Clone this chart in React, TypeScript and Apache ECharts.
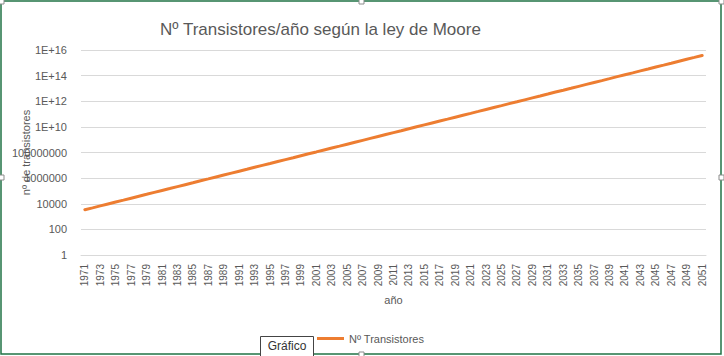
import React, { useEffect, useRef } from "react";
import * as echarts from "echarts";

const years: string[] = [];
for (let y = 1971; y <= 2051; y++) years.push(String(y));

const transistores: number[] = [
  3.4e3, 4.8e3, 6.8e3, 9.6e3, 1.36e4, 1.92e4, 2.72e4, 3.85e4, 5.44e4, 7.7e4,
  1.09e5, 1.54e5, 2.18e5, 3.08e5, 4.35e5, 6.2e5, 8.7e5, 1.23e6, 1.74e6, 2.46e6,
  3.48e6, 4.9e6, 7.0e6, 9.9e6, 1.39e7, 1.97e7, 2.79e7, 3.9e7, 5.6e7, 7.9e7,
  1.11e8, 1.58e8, 2.23e8, 3.15e8, 4.46e8, 6.3e8, 8.9e8, 1.26e9, 1.78e9, 2.52e9,
  3.57e9, 5.0e9, 7.1e9, 1.01e10, 1.43e10, 2.02e10, 2.85e10, 4.0e10, 5.7e10, 8.1e10,
  1.14e11, 1.61e11, 2.28e11, 3.23e11, 4.56e11, 6.5e11, 9.1e11, 1.29e12, 1.83e12, 2.58e12,
  3.65e12, 5.2e12, 7.3e12, 1.03e13, 1.46e13, 2.07e13, 2.92e13, 4.1e13, 5.8e13, 8.3e13,
  1.17e14, 1.65e14, 2.34e14, 3.3e14, 4.7e14, 6.6e14, 9.3e14, 1.32e15, 1.87e15, 2.64e15,
  3.74e15,
];

const title = "Nº Transistores/año según la ley de Moore";
const seriesName = "Nº Transistores";
const yName = "nº de transistores";
const xName = "año";
const tabLabel = "Gráfico";

const FONT = "Liberation Sans";
const GRAY = "#595959";

export default function App() {
  const ref = useRef<HTMLDivElement>(null);
  useEffect(() => {
    if (!ref.current) return;
    const chart = echarts.init(ref.current, undefined, { renderer: "svg" });
    const handle = (x: number, y: number) => ({
      type: "rect",
      shape: { x, y, width: 5, height: 5 },
      style: { fill: "#fff", stroke: "#8c8c8c", lineWidth: 1 },
      z: 101,
    });
    chart.setOption({
      animation: false,
      backgroundColor: "#fff",
      title: {
        text: title,
        left: 155,
        top: 16,
        textStyle: { fontFamily: FONT, fontSize: 17, fontWeight: "normal", color: GRAY },
      },
      legend: {
        data: [seriesName],
        left: 312,
        top: 328,
        icon: "rect",
        itemWidth: 27,
        itemHeight: 3,
        itemGap: 5,
        itemStyle: { color: "#ED7D31" },
        textStyle: { fontFamily: FONT, fontSize: 11, color: GRAY },
      },
      grid: { left: 81, right: 18, top: 50, bottom: 101 },
      xAxis: {
        type: "category",
        data: years,
        boundaryGap: true,
        name: xName,
        nameLocation: "middle",
        nameGap: 39,
        nameTextStyle: { fontFamily: FONT, fontSize: 11, color: GRAY },
        axisLine: { lineStyle: { color: "#d9d9d9" } },
        axisTick: { show: false },
        axisLabel: {
          interval: 1,
          rotate: 90,
          margin: 9,
          fontFamily: FONT,
          fontSize: 10,
          color: GRAY,
        },
      },
      yAxis: {
        type: "log",
        logBase: 10,
        min: 1,
        max: 1e16,
        interval: 2,
        splitNumber: 8,
        name: yName,
        nameLocation: "middle",
        nameRotate: 90,
        nameGap: 50,
        nameMoveOverlap: false,
        nameTextStyle: { fontFamily: FONT, fontSize: 11, color: GRAY },
        axisLine: { show: false },
        axisTick: { show: false },
        splitLine: { lineStyle: { color: "#d9d9d9", width: 1 } },
        axisLabel: {
          margin: 14,
          fontFamily: FONT,
          fontSize: 11,
          color: GRAY,
          formatter: (v: number) => {
            const e = Math.round(Math.log10(v));
            if (e >= 10) return "1E+" + e;
            return String(Math.pow(10, e));
          },
        },
      },
      series: [
        {
          name: seriesName,
          type: "line",
          data: transistores,
          symbol: "none",
          lineStyle: { color: "#ED7D31", width: 3, cap: "round" },
          itemStyle: { color: "#ED7D31" },
        },
      ],
      graphic: [
        {
          type: "rect",
          shape: { x: 1, y: 1, width: 720, height: 353 },
          style: { fill: "none", stroke: "#217346", lineWidth: 1.5 },
          z: 100,
        },
        handle(359, -1),
        handle(-1, 175),
        handle(719, 175),
        handle(359, 352),
        handle(-1, -1),
        handle(719, -1),
        {
          type: "group",
          z: 102,
          children: [
            {
              type: "rect",
              shape: { x: 260.5, y: 336.5, width: 53, height: 22 },
              style: { fill: "#fff", stroke: "#444", lineWidth: 1 },
              z: 102,
            },
            {
              type: "text",
              x: 287,
              y: 346,
              style: {
                text: tabLabel,
                fontFamily: FONT,
                fontSize: 12,
                fill: "#333",
                align: "center",
                verticalAlign: "middle",
              },
              z: 103,
            },
          ],
        },
      ],
    });
    return () => chart.dispose();
  }, []);
  return (
    <div
      ref={ref}
      style={{ position: "fixed", left: 0, top: 0, width: 724, height: 356 }}
    />
  );
}
